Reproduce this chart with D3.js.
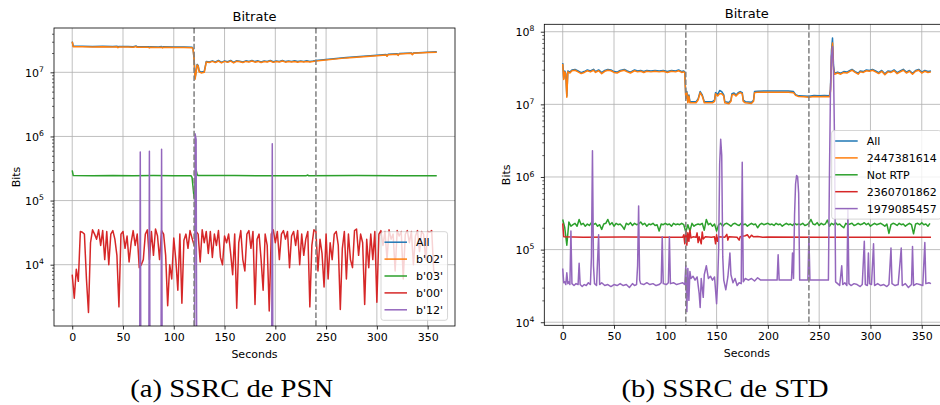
<!DOCTYPE html>
<html>
<head>
<meta charset="utf-8">
<script src="https://cdn.jsdelivr.net/npm/d3@7"></script>
<style>
  body { margin: 0; background: #fff; }
  svg text { font-family: "DejaVu Sans", sans-serif; fill: #000; }
  svg text.caption { font-family: "Liberation Serif", serif; font-size: 26px; }
</style>
</head>
<body>
<div id="chart"></div>
<script>

// ---------- data ----------

// shared
var seriesColors = ["#1f77b4", "#ff7f0e", "#2ca02c", "#d62728", "#9467bd"];
var xTickValues = [0, 50, 100, 150, 200, 250, 300, 350];
var phaseMarks = [120, 240];   // dashed vertical lines (seconds)
var denseStep = 2;             // seconds between samples of the dense series

// (a) SSRC de PSN
var psnLabels = ["All", "b'02'", "b'03'", "b'00'", "b'12'"];
var psnDecades = [1e4, 1e5, 1e6, 1e7];

var psnTopSeconds = [0,1,10,20,30,40,44,45,46,55, 60,63,64,75,76,77,85,88,89,90,
    100,110,118,119,120,121,122,123,124,125, 127,130,131,132,135,138,141,144,147,150,
    153,156,159,162,165,168,171,174,177,180, 183,186,189,192,195,198,201,204,207,210,
    213,216,219,222,225,228,231,234,237,240, 270,300,309,310,311,320,321,322,334,335,
    336,350,359];
// x 1e7 bits
var psnAllE7 = [3.02,2.55,2.55,2.53,2.55,2.53,2.56,2.48,2.53,2.53, 2.51,2.57,2.5,2.5,2.46,2.51,2.49,2.52,2.46,2.5,
    2.48,2.49,2.47,2.35,1.65,0.82,1.03,1.33,1.28,1.05, 1.01,1.03,1.23,1.48,1.45,1.51,1.45,1.53,1.43,1.51,
    1.46,1.53,1.43,1.52,1.49,1.45,1.51,1.48,1.53,1.47, 1.51,1.45,1.5,1.48,1.53,1.46,1.5,1.48,1.53,1.47,
    1.5,1.48,1.51,1.47,1.5,1.48,1.51,1.48,1.5,1.53, 1.71,1.85,1.89,1.81,1.91,1.95,1.87,1.96,2.01,1.91,
    2.01,2.06,2.09];
var psnB02E7 = [3.0,2.5,2.5,2.48,2.5,2.48,2.5,2.42,2.48,2.48, 2.46,2.52,2.45,2.45,2.4,2.46,2.44,2.47,2.4,2.45,
    2.43,2.44,2.42,2.3,1.6,0.78,1.0,1.3,1.25,1.02, 0.98,1.0,1.2,1.45,1.42,1.48,1.42,1.5,1.4,1.48,
    1.43,1.5,1.4,1.49,1.46,1.42,1.48,1.45,1.5,1.44, 1.48,1.42,1.47,1.45,1.5,1.43,1.47,1.45,1.5,1.44,
    1.47,1.45,1.48,1.44,1.47,1.45,1.48,1.45,1.47,1.5, 1.68,1.82,1.86,1.78,1.88,1.92,1.84,1.93,1.98,1.88,
    1.98,2.03,2.06];
// [seconds, x 1e5 bits]
var psnB03Pairs = [[0,2.95],[1,2.45],[20,2.44],[40,2.46],[60,2.44],[80,2.45],[100,2.44],[117,2.44],
    [118,2.3],[119,1.6],[120,1.1],[121,2.0],[122,3.0],[123,2.55],[124,2.45],[160,2.45],[200,2.44],
    [230,2.43],[232,2.5],[233,2.43],[280,2.45],[320,2.44],[359,2.43]];
// kbit, one value every denseStep seconds from t = 0
var psnB00Kbit = [
    7,3,8.5,5.5,33,32,30,6,1.8,22,35,30,25,35,20,34,12,33,10,30,
    34,25,14,2.2,30,33,18,28,11,22,34,20,30,9,10,12,30,35,12,33,
    14,36,28,12,34,30,14,2.3,10,6,26,12,4,30,2.5,24,30,18,34,26,
    20,33,30,11,35,22,33,15,33,13,30,20,34,13,10,28,22,30,15,7,
    30,2.1,22,34,12,8,30,34,18,33,2.4,25,30,12,4,30,20,1.9,30,35,
    22,33,12,30,34,25,33,9,28,33,20,34,10,30,14,25,33,2.2,20,35,
    33,8,25,15,4.5,30,6,22,12,30,33,20,2.0,18,33,6,30,12,9,34,
    36,14,30,22,2.4,25,9,30,12,33,2.6,30,34,20,33,12,35,25,30,8,
    34,28,33,6,30,34,22,33,10,28,34,16,33,30,12,33,32,34,8,7];
// [seconds, bits]; 0 = no traffic (drawn clipped below the axis)
var psnB12Pairs = [[0,0],[66,0],[67,5.7e5],[68,0],[75,0],[76,5.9e5],[77,0],[87,0],[88,6.3e5],[89,0],
    [120,0],[121,1.1e6],[122,9e5],[123,0],[196,0],[197,7.7e5],[198,0],[359,0]];

// (b) SSRC de STD
var stdLabels = ["All", "2447381614", "Not RTP", "2360701862", "1979085457"];
var stdDecades = [1e4, 1e5, 1e6, 1e7, 1e8];

var stdTopSeconds = [0,1,2,3,4,5,7,9,12,15, 18,21,24,27,30,32,35,38,41,44,
    47,50,53,56,60,63,66,70,73,76, 79,82,86,90,94,98,102,106,110,113,
    116,118,119,120,121,122,123,124,127,130, 132,134,136,138,142,146,148,149,151,153,
    155,157,158,162,164,165,167,169,171,173, 175,176,178,184,186,187,190,200,210,220,
    225,227,230,235,240,245,250,255,260,261, 262,263,264,265,268,271,274,277,280,282,
    285,288,290,293,296,299,302,305,308,311, 314,317,320,323,326,329,332,335,338,341,
    344,347,350,353,356,359];
// x 1e7 bits
var stdAllE7 = [3.7,2.27,2.88,2.68,1.3,2.88,2.78,2.98,3.03,2.88, 2.73,2.83,2.98,2.88,3.03,2.83,2.98,2.73,2.93,3.03,
    2.98,2.83,2.78,2.93,3.03,2.88,2.78,2.98,2.88,2.93, 2.83,2.93,2.88,2.93,2.88,2.93,2.83,2.93,2.88,2.98,
    2.83,2.88,2.78,1.25,1.5,1.09,1.35,1.09,1.09,1.09, 1.19,1.5,1.35,1.09,1.09,1.09,1.14,1.45,1.36,1.55,
    1.5,1.35,1.09,1.06,1.14,1.4,1.43,1.35,1.45,1.5, 1.45,1.14,1.09,1.07,1.14,1.5,1.52,1.53,1.53,1.53,
    1.5,1.36,1.31,1.3,1.29,1.32,1.31,1.32,1.31,1.6, 5.5,8.2,3.4,2.68,2.78,2.68,2.83,2.78,2.93,3.03,
    2.83,2.68,2.88,2.83,2.98,2.93,3.03,2.88,2.73,2.93, 2.63,2.88,2.83,2.98,2.73,2.88,3.03,2.78,2.93,2.68,
    2.93,3.03,2.78,2.93,2.83,2.88];
var std2447E7 = [3.6,2.2,2.8,2.6,1.25,2.8,2.7,2.9,2.95,2.8, 2.65,2.75,2.9,2.8,2.95,2.75,2.9,2.65,2.85,2.95,
    2.9,2.75,2.7,2.85,2.95,2.8,2.7,2.9,2.8,2.85, 2.75,2.85,2.8,2.85,2.8,2.85,2.75,2.85,2.8,2.9,
    2.75,2.8,2.7,1.2,1.45,1.05,1.3,1.05,1.05,1.05, 1.15,1.45,1.3,1.05,1.05,1.05,1.1,1.4,1.3,1.4,
    1.4,1.3,1.05,1.02,1.1,1.35,1.38,1.3,1.4,1.45, 1.4,1.1,1.05,1.03,1.1,1.45,1.47,1.47,1.47,1.47,
    1.45,1.33,1.28,1.27,1.25,1.28,1.27,1.28,1.27,1.5, 4.5,7.0,3.0,2.6,2.7,2.6,2.75,2.7,2.85,2.95,
    2.75,2.6,2.8,2.75,2.9,2.85,2.95,2.8,2.65,2.85, 2.55,2.8,2.75,2.9,2.65,2.8,2.95,2.7,2.85,2.6,
    2.85,2.95,2.7,2.85,2.75,2.8];
// x 1e5 bits, one value every denseStep seconds from t = 0
var stdNotRtpE5 = [
    2.6,2.0,1.15,2.4,2.1,2.2,2.3,2.1,2.6,2.2,2.3,2.1,2.25,2.15,2.35,2.2,2.3,2.1,2.2,1.9,
    2.25,2.3,2.6,2.2,2.35,2.1,2.3,2.2,2.25,2.1,1.9,2.3,2.2,2.35,2.15,2.3,2.2,2.25,2.4,2.2,
    2.3,2.1,2.25,2.2,2.3,2.15,2.2,1.8,2.25,2.2,2.3,2.2,2.25,2.1,2.3,2.2,2.25,2.2,2.3,2.2,
    1.75,2.2,1.8,2.3,2.1,2.2,2.25,2.2,2.3,1.85,2.6,2.2,2.3,2.1,2.25,1.8,2.2,2.3,2.1,2.25,
    2.3,2.2,2.1,2.25,2.3,2.2,2.15,2.3,2.2,2.25,2.1,2.2,2.3,2.2,2.25,2.0,2.2,2.3,2.2,2.25,
    2.3,2.2,2.25,2.15,2.3,2.2,2.25,2.1,2.2,2.3,2.2,2.25,2.15,2.3,2.2,2.25,2.2,2.3,2.15,2.2,
    2.3,2.6,2.25,2.2,2.35,2.15,2.3,2.2,2.25,2.55,2.1,2.3,2.2,2.35,2.2,2.25,2.1,2.0,2.3,2.2,
    2.25,2.3,2.15,2.2,2.3,2.2,2.25,2.35,2.2,2.3,2.1,2.2,2.3,2.2,2.25,2.3,2.2,2.1,2.25,1.67,
    2.2,2.3,2.25,2.15,2.3,2.2,2.25,2.1,2.2,2.3,2.2,1.65,2.25,2.3,2.2,2.35,2.2,2.25,2.1,2.3];
// [seconds, x 1e5 bits]
var std2360Pairs = [[0,2.3],[1,1.5],[20,1.48],[60,1.49],[100,1.48],[117,1.48],[118,1.6],[119,1.2],
    [120,1.8],[121,1.15],[122,1.7],[123,1.3],[124,1.85],[125,1.45],[127,1.5],[130,1.48],[131,1.7],
    [132,1.25],[133,1.5],[135,1.2],[136,1.75],[137,1.4],[139,1.5],[145,1.48],[148,1.5],[149,1.2],
    [150,1.6],[151,1.3],[152,1.5],[158,1.48],[160,1.62],[161,1.35],[162,1.5],[170,1.48],[172,1.35],
    [173,1.5],[178,1.55],[180,1.6],[182,1.45],[184,1.58],[186,1.5],[190,1.52],[195,1.48],[200,1.49],
    [250,1.48],[300,1.48],[359,1.48]];
// [seconds, x 1e4 bits]
var std1979Pairs = [[0,5.5],[1,3.5],[2,3.6],[3,3.3],[4,4.8],[5,3.4],[6,3.6],[7,3.3],[8,18],[9,3.4],
    [11,3.2],[13,3.4],[15,3.3],[16,6.5],[17,3.3],[19,3.1],[21,3.3],[23,3.2],[25,3.5],[27,3.3],
    [28,8],[29,230],[30,6],[31,3.4],[33,3.2],[35,16],[36,3.3],[38,3.5],[41,3.2],[44,3.3],
    [47,3.1],[50,3.3],[53,3.2],[56,3.4],[59,3.2],[62,3.3],[65,3.0],[68,3.4],[70,3.2],[72,3.3],
    [73,6],[74,40],[75,3.8],[76,3.4],[79,3.3],[82,3.5],[85,3.3],[88,3.4],[91,3.2],[94,3.3],
    [96,3.5],[97,15],[98,3.4],[101,3.3],[103,3.5],[104,15],[105,3.4],[108,3.5],[111,3.3],[114,3.4],
    [117,3.5],[119,3.3],[120,6],[121,1.4],[122,5.5],[123,2.0],[124,5],[125,4],[127,4.3],[129,3.8],
    [131,4.2],[133,2.5],[134,1.6],[135,4],[137,2.2],[138,4.5],[140,6],[142,4],[144,4.3],[146,3.8],
    [148,4.2],[150,1.8],[151,3.5],[152,10],[153,150],[154,330],[155,200],[156,8],[157,3.8],[159,2.8],
    [161,4.2],[162,6],[163,9],[164,4.5],[166,3.5],[168,4],[170,3.2],[172,3.5],[174,3.4],[175,160],
    [176,3.6],[178,4],[181,3.8],[184,4],[187,3.7],[190,4.1],[193,3.8],[196,3.8],[200,3.8],[205,3.8],
    [209,3.8],[210,8.5],[211,3.8],[215,3.8],[220,3.8],[223,3.8],[224,9],[225,4],[226,30],[227,80],
    [228,105],[229,100],[230,60],[231,3.8],[235,3.8],[239,3.8],[240,15],[241,3.8],[259,3.8],[260,100],
    [261,1500],[262,4500],[263,6200],[264,3000],[265,300],[266,3.6],[268,3.4],[270,3.2],[272,6],[273,3.3],
    [275,3.5],[277,3.2],[278,35],[279,3.4],[281,3.2],[284,3.4],[287,3.3],[290,3.1],[292,3.3],[294,13],
    [295,3.3],[297,3.2],[298,9],[299,3.4],[301,3.3],[303,12],[304,3.2],[307,3.4],[310,3.2],[313,3.3],
    [316,3.1],[318,3.3],[320,10.5],[321,3.4],[324,3.2],[327,3.3],[330,10.5],[331,3.2],[334,3.4],[337,3.0],
    [340,3.3],[341,11],[342,3.2],[345,3.4],[348,3.3],[351,3.2],[353,12.5],[354,3.4],[357,3.5],[359,3.4]];


// ---------- helpers to turn the arrays into [seconds, bits] points ----------

function zipSeconds(seconds, values, unit) {
    return seconds.map(function(t, i) { return [t, values[i] * unit]; });
}
function fromPairs(pairs, unit) {
    return pairs.map(function(p) { return [p[0], p[1] * unit]; });
}
function fromSteps(values, step, unit) {
    return values.map(function(v, i) { return [i * step, v * unit]; });
}


/*
 * BitrateVis - one log-scale bitrate panel
 * @param _svg      -- d3 selection of the svg to draw into
 * @param _opts     -- layout + series for the panel
 */
BitrateVis = function(_svg, _opts) {
    this.svg = _svg;
    this.opts = _opts;
    this.initVis();
};

BitrateVis.prototype.initVis = function() {
    var vis = this;
    var o = vis.opts;

    vis.width = o.box[2];
    vis.height = o.box[3];

    vis.g = vis.svg.append("g")
        .attr("transform", "translate(" + o.box[0] + "," + o.box[1] + ")");

    vis.g.append("clipPath")
        .attr("id", o.id + "-clip")
        .append("rect")
        .attr("width", vis.width)
        .attr("height", vis.height);

    // autoscale like matplotlib: 5% margins (log space for y)
    var pts = d3.merge(o.series.map(function(s) { return s.data; }));
    var tExt = d3.extent(pts, function(d) { return d[0]; });
    var tPad = (tExt[1] - tExt[0]) * 0.05;
    vis.x = d3.scaleLinear()
        .domain([tExt[0] - tPad, tExt[1] + tPad])
        .range([0, vis.width]);

    var logs = pts.filter(function(d) { return d[1] > 0; })
        .map(function(d) { return Math.log10(d[1]); });
    var lExt = d3.extent(logs);
    var lPad = (lExt[1] - lExt[0]) * 0.05;
    vis.y = d3.scaleLog()
        .domain([Math.pow(10, lExt[0] - lPad), Math.pow(10, lExt[1] + lPad)])
        .range([vis.height, 0]);

    vis.updateVis();
};

BitrateVis.prototype.updateVis = function() {
    var vis = this;
    var o = vis.opts;

    //======= grid ======//
    var grid = vis.g.append("g").attr("class", "grid");
    grid.selectAll(".vgrid").data(xTickValues).enter().append("line")
        .attr("x1", function(d) { return vis.x(d); })
        .attr("x2", function(d) { return vis.x(d); })
        .attr("y1", 0).attr("y2", vis.height);
    grid.selectAll(".hgrid").data(o.decades).enter().append("line")
        .attr("x1", 0).attr("x2", vis.width)
        .attr("y1", function(d) { return vis.y(d); })
        .attr("y2", function(d) { return vis.y(d); });
    grid.selectAll("line")
        .attr("stroke", "#b0b0b0")
        .attr("stroke-width", 0.8);

    //======= series ======//
    var line = d3.line()
        .x(function(d) { return vis.x(d[0]); })
        .y(function(d) { return vis.y(Math.max(d[1], 1)); });

    var plot = vis.g.append("g").attr("clip-path", "url(#" + o.id + "-clip)");
    o.series.forEach(function(s) {
        plot.append("path")
            .datum(s.data)
            .attr("fill", "none")
            .attr("stroke", s.color)
            .attr("stroke-width", 1.5)
            .attr("stroke-linejoin", "round")
            .attr("d", line);
    });

    plot.selectAll(".phase").data(phaseMarks).enter().append("line")
        .attr("x1", function(d) { return vis.x(d); })
        .attr("x2", function(d) { return vis.x(d); })
        .attr("y1", 0).attr("y2", vis.height)
        .attr("stroke", "#7f7f7f")
        .attr("stroke-width", 1.5)
        .attr("stroke-dasharray", "5.5,2.4");

    //======= axes ======//
    var xAxis = vis.g.append("g")
        .attr("transform", "translate(0," + vis.height + ")")
        .call(d3.axisBottom(vis.x).tickValues(xTickValues).tickSize(3.5).tickPadding(3.5).tickSizeOuter(0));
    xAxis.select(".domain").remove();
    xAxis.attr("font-family", null).attr("font-size", 11);
    xAxis.selectAll("line").attr("stroke-width", 0.8);

    var minors = [];
    o.decades.concat([o.decades[0] / 10]).forEach(function(dec) {
        for (var m = 2; m < 10; m++) {
            var v = dec * m;
            if (v > vis.y.domain()[0] && v < vis.y.domain()[1]) minors.push(v);
        }
    });
    var yMinor = vis.g.append("g")
        .call(d3.axisLeft(vis.y).tickValues(minors).tickSize(2).tickFormat(""));
    yMinor.select(".domain").remove();
    yMinor.selectAll("line").attr("stroke-width", 0.6);

    var yAxis = vis.g.append("g")
        .call(d3.axisLeft(vis.y).tickValues(o.decades).tickSize(3.5).tickFormat(""));
    yAxis.select(".domain").remove();
    yAxis.selectAll("line").attr("stroke-width", 0.8);

    var yLabels = vis.g.append("g").selectAll("text").data(o.decades).enter().append("text")
        .attr("x", -10)
        .attr("y", function(d) { return vis.y(d) + 4.3; })
        .attr("text-anchor", "end")
        .attr("font-size", 11);
    yLabels.append("tspan").text("10");
    yLabels.append("tspan")
        .attr("dy", -4.6)
        .attr("font-size", 7.7)
        .text(function(d) { return Math.round(Math.log10(d)); });

    // spines
    vis.g.append("rect")
        .attr("width", vis.width)
        .attr("height", vis.height)
        .attr("fill", "none")
        .attr("stroke", "#000")
        .attr("stroke-width", 0.8);

    //======= labels ======//
    vis.g.append("text")
        .attr("x", vis.width / 2)
        .attr("y", -o.titleGap)
        .attr("text-anchor", "middle")
        .attr("font-size", 13)
        .text("Bitrate");

    vis.g.append("text")
        .attr("x", vis.width / 2)
        .attr("y", vis.height + 32)
        .attr("text-anchor", "middle")
        .attr("font-size", 11)
        .text("Seconds");

    vis.g.append("text")
        .attr("transform", "translate(-34," + (vis.height / 2) + ") rotate(-90)")
        .attr("text-anchor", "middle")
        .attr("font-size", 11)
        .text("Bits");

    vis.addLegend();

    vis.svg.append("text")
        .attr("class", "caption")
        .attr("x", o.caption.x - o.caption.width / 2)
        .attr("y", 397)
        .attr("textLength", o.caption.width)
        .attr("lengthAdjust", "spacingAndGlyphs")
        .text(o.caption.text);
};

/*
 Legend box in the lower right
 */
BitrateVis.prototype.addLegend = function() {
    var vis = this;
    var o = vis.opts;
    var rowH = 16.9;

    var lg = vis.g.append("g")
        .attr("transform", "translate(" + o.legend[0] + "," + o.legend[1] + ")");
    var box = lg.append("rect")
        .attr("rx", 2.5)
        .attr("fill", "#fff")
        .attr("fill-opacity", 0.8)
        .attr("stroke", "#cccccc")
        .attr("stroke-width", 0.8);

    var maxLen = 0;
    o.series.forEach(function(s, i) {
        var cy = 10.5 + i * rowH;
        lg.append("line")
            .attr("x1", 3.5).attr("x2", 26)
            .attr("y1", cy).attr("y2", cy)
            .attr("stroke", s.color)
            .attr("stroke-width", 1.5);
        var t = lg.append("text")
            .attr("x", 35)
            .attr("y", cy + 4)
            .attr("font-size", 11)
            .text(s.name);
        maxLen = Math.max(maxLen, t.node().getComputedTextLength());
    });

    box.attr("width", 35 + maxLen + 4.5)
        .attr("height", 10.5 + (o.series.length - 1) * rowH + 10.5);
};


// ---------- build both panels ----------

var svg = d3.select("#chart").append("svg")
    .attr("width", 940)
    .attr("height", 405);

var psnData = [
    zipSeconds(psnTopSeconds, psnAllE7, 1e7),
    zipSeconds(psnTopSeconds, psnB02E7, 1e7),
    fromPairs(psnB03Pairs, 1e5),
    fromSteps(psnB00Kbit, denseStep, 1e3),
    fromPairs(psnB12Pairs, 1)
];
var stdData = [
    zipSeconds(stdTopSeconds, stdAllE7, 1e7),
    zipSeconds(stdTopSeconds, std2447E7, 1e7),
    fromSteps(stdNotRtpE5, denseStep, 1e5),
    fromPairs(std2360Pairs, 1e5),
    fromPairs(std1979Pairs, 1e4)
];

new BitrateVis(svg, {
    id: "psn",
    box: [54, 28, 401, 298],
    titleGap: 7,
    decades: psnDecades,
    legend: [327, 203.7],
    caption: { text: "(a) SSRC de PSN", x: 231.7, width: 203 },
    series: psnLabels.map(function(name, i) {
        return { name: name, color: seriesColors[i], data: psnData[i] };
    })
});

new BitrateVis(svg, {
    id: "std",
    box: [544.3, 24.3, 405.1, 301],
    titleGap: 6,
    decades: stdDecades,
    legend: [287.4, 106.2],
    caption: { text: "(b) SSRC de STD", x: 725, width: 207 },
    series: stdLabels.map(function(name, i) {
        return { name: name, color: seriesColors[i], data: stdData[i] };
    })
});

</script>
</body>
</html>
